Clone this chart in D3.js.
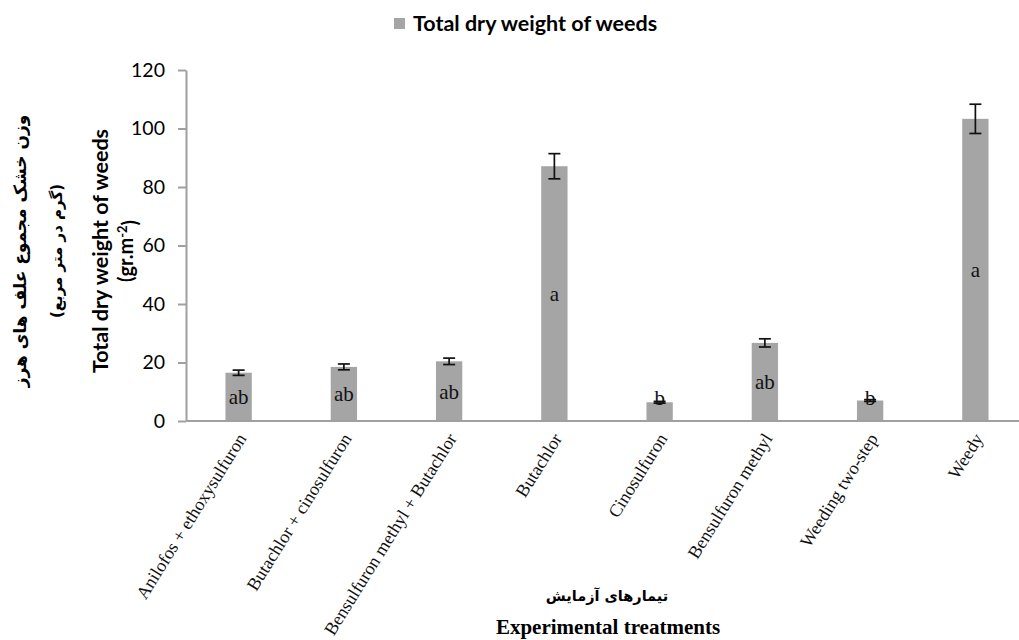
<!DOCTYPE html>
<html>
<head>
<meta charset="utf-8">
<script src="https://cdn.jsdelivr.net/npm/d3@7"></script>
<style>
  html, body { margin: 0; padding: 0; background: #fff; }
  svg { display: block; }
</style>
</head>
<body>
<svg id="chart" width="1019" height="640"></svg>
<script>
// Treatments along the x axis
const categories = [
  "Anilofos + ethoxysulfuron",
  "Butachlor + cinosulfuron",
  "Bensulfuron methyl + Butachlor",
  "Butachlor",
  "Cinosulfuron",
  "Bensulfuron methyl",
  "Weeding two-step",
  "Weedy"
];
// Mean total dry weight of weeds (g per m²)
const values = [16.5, 18.5, 20.4, 87.1, 6.4, 26.7, 7.0, 103.3];
// Standard errors drawn as error bars
const errors = [0.9, 1.0, 1.1, 4.3, 0.3, 1.4, 0.3, 5.0];
// Mean separation letters
const letters = ["ab", "ab", "ab", "a", "b", "ab", "b", "a"];
// Y axis ticks
const yTicks = [0, 20, 40, 60, 80, 100, 120];

const seriesName = "Total dry weight of weeds";
const yTitleFa1 = "وزن خشک مجموع علف های هرز";
const yTitleFa2 = "(گرم در متر مربع)";
const xTitleFa = "تیمارهای آزمایش";
const xTitleEn = "Experimental treatments";

const svg = d3.select("#chart");
const barColor = "#a5a5a5";
const axisColor = "#a0a0a0";
const sans = "Lato, 'Open Sans', sans-serif";
const serif = "'Liberation Serif', 'Times New Roman', serif";
const fa = "'DejaVu Sans', sans-serif";

const x = d3.scaleBand()
  .domain(categories)
  .range([186, 1028])
  .paddingInner(0.75)
  .paddingOuter(0.375);

const y = d3.scaleLinear()
  .domain([0, 120])
  .range([421, 70]);

// Y axis
const yAxis = svg.append("g")
  .attr("transform", "translate(186,0)")
  .call(d3.axisLeft(y).tickValues(yTicks).tickSize(8).tickPadding(13).tickSizeOuter(0));
yAxis.select(".domain").attr("stroke", axisColor).attr("stroke-width", 2);
yAxis.selectAll(".tick line").attr("stroke", axisColor).attr("stroke-width", 2);
yAxis.selectAll(".tick text")
  .attr("fill", "#000")
  .style("font-family", sans)
  .style("font-size", "19.5px");

// Bars
const bars = svg.append("g");
bars.selectAll("rect")
  .data(values)
  .join("rect")
  .attr("x", (d, i) => x(categories[i]))
  .attr("width", x.bandwidth())
  .attr("y", d => y(d))
  .attr("height", d => y(0) - y(d))
  .attr("fill", barColor);

// Error bars
const eb = svg.append("g").attr("stroke", "#111").attr("stroke-width", 1.7);
values.forEach((v, i) => {
  const cx = x(categories[i]) + x.bandwidth() / 2;
  const top = y(v + errors[i]);
  const bot = y(v - errors[i]);
  eb.append("line").attr("x1", cx).attr("x2", cx).attr("y1", top).attr("y2", bot);
  eb.append("line").attr("x1", cx - 6).attr("x2", cx + 6).attr("y1", top).attr("y2", top);
  eb.append("line").attr("x1", cx - 6).attr("x2", cx + 6).attr("y1", bot).attr("y2", bot);
});

// X axis line
svg.append("line")
  .attr("x1", 186).attr("x2", 1019)
  .attr("y1", y(0)).attr("y2", y(0))
  .attr("stroke", axisColor).attr("stroke-width", 2);

// Letters inside bars
svg.append("g").selectAll("text")
  .data(values)
  .join("text")
  .attr("x", (d, i) => x(categories[i]) + x.bandwidth() / 2)
  .attr("y", d => Math.min(y(d / 2), y(0) - 23))
  .attr("dy", "0.35em")
  .attr("text-anchor", "middle")
  .style("font-family", serif)
  .style("font-size", "21px")
  .attr("fill", "#111")
  .text((d, i) => letters[i]);

// Category labels, rotated
svg.append("g").selectAll("text")
  .data(categories)
  .join("text")
  .attr("transform", d => `translate(${x(d) + x.bandwidth() / 2 + 3},${y(0) + 14}) rotate(-58)`)
  .attr("text-anchor", "end")
  .attr("dy", "0.35em")
  .style("font-family", serif)
  .style("font-size", "18px")
  .attr("fill", "#111")
  .text(d => d);

// Legend
svg.append("rect")
  .attr("x", 394).attr("y", 18).attr("width", 11).attr("height", 11)
  .attr("fill", barColor);
svg.append("text")
  .attr("x", 413).attr("y", 30.5)
  .style("font-family", sans)
  .style("font-weight", "bold")
  .style("font-size", "21.5px")
  .attr("fill", "#000")
  .text(seriesName);

// Y axis titles
const yMid = 251;
function vText(cx, txt, font, size, weight) {
  return svg.append("text")
    .attr("transform", `translate(${cx},${yMid}) rotate(-90)`)
    .attr("text-anchor", "middle")
    .attr("dy", "0.35em")
    .style("font-family", font)
    .style("font-size", size)
    .style("font-weight", weight)
    .attr("fill", "#000")
    .text(txt);
}
vText(20, yTitleFa1, fa, "17px", "bold");
vText(57, yTitleFa2, fa, "15px", "bold");
vText(100, seriesName, sans, "21.5px", "bold");
const unit = svg.append("text")
  .attr("transform", `translate(126,${yMid}) rotate(-90)`)
  .attr("text-anchor", "middle")
  .attr("dy", "0.35em")
  .style("font-family", sans)
  .style("font-size", "20px")
  .style("font-weight", "bold")
  .attr("fill", "#000");
unit.append("tspan").text("(gr.m");
unit.append("tspan").attr("dy", "-0.5em").style("font-size", "13px").text("-2");
unit.append("tspan").attr("dy", "0.5em").text(")");

// X axis titles
svg.append("text")
  .attr("x", 607).attr("y", 596)
  .attr("text-anchor", "middle")
  .attr("dy", "0.35em")
  .style("font-family", fa)
  .style("font-size", "14.5px")
  .style("font-weight", "bold")
  .attr("fill", "#000")
  .text(xTitleFa);
svg.append("text")
  .attr("x", 608).attr("y", 634)
  .attr("text-anchor", "middle")
  .style("font-family", serif)
  .style("font-size", "21px")
  .style("font-weight", "bold")
  .attr("fill", "#000")
  .text(xTitleEn);
</script>
</body>
</html>
